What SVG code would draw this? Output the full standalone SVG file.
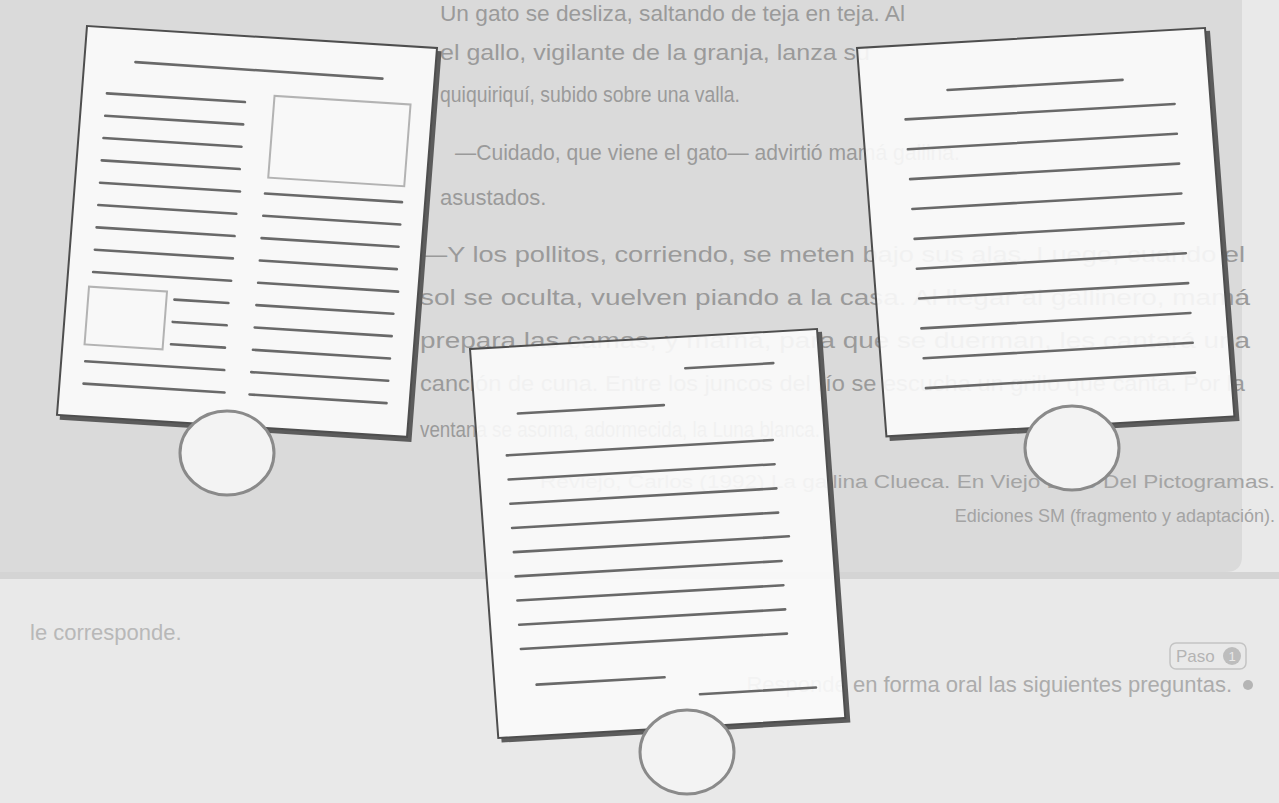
<svg xmlns="http://www.w3.org/2000/svg" width="1279" height="803" viewBox="0 0 1279 803">
<defs>
<style>
.bgt{font-family:"Liberation Sans",Arial,sans-serif;fill:#9a9a9a;font-size:22px}
.bgs{font-family:"Liberation Sans",Arial,sans-serif;fill:#a4a4a4;font-size:18px}
.shadow{fill:none;stroke:#5c5c5c;stroke-width:4.5}
.page{fill:#fbfbfb;fill-opacity:0.9;stroke:#4e4e4e;stroke-width:2}
.ln{stroke:#696969;stroke-width:2.6;stroke-linecap:round}
.pic{fill:none;stroke:#b3b3b3;stroke-width:2}
.seal{fill:#f3f3f3;stroke:#8a8a8a;stroke-width:3}
</style>
</defs>

<g id="background">
<rect width="1279" height="803" fill="#e9e9e9"/>
<path d="M0 0 H1242 V556 Q1242 572 1226 572 H0 Z" fill="#dadada"/>
<rect x="0" y="572" width="1279" height="7" fill="#d4d4d4"/>
</g>

<g id="page-text">
<text class="bgt" x="440" y="21" textLength="465" lengthAdjust="spacingAndGlyphs">Un gato se desliza, saltando de teja en teja. Al</text>
<text class="bgt" x="440" y="60" textLength="430" lengthAdjust="spacingAndGlyphs">el gallo, vigilante de la granja, lanza su</text>
<text class="bgt" x="440" y="102" textLength="300" lengthAdjust="spacingAndGlyphs">quiquiriquí, subido sobre una valla.</text>
<text class="bgt" x="455" y="160" textLength="505" lengthAdjust="spacingAndGlyphs">—Cuidado, que viene el gato— advirtió mamá gallina.</text>
<text class="bgt" x="440" y="205">asustados.</text>
<text class="bgt" x="420" y="262" textLength="825" lengthAdjust="spacingAndGlyphs">—Y los pollitos, corriendo, se meten bajo sus alas. Luego, cuando el</text>
<text class="bgt" x="420" y="305" textLength="830" lengthAdjust="spacingAndGlyphs">sol se oculta, vuelven piando a la casa. Al llegar al gallinero, mamá</text>
<text class="bgt" x="420" y="348" textLength="830" lengthAdjust="spacingAndGlyphs">prepara las camas, y mamá, para que se duerman, les cantará una</text>
<text class="bgt" x="420" y="391" textLength="825" lengthAdjust="spacingAndGlyphs">canción de cuna. Entre los juncos del río se escucha un grillo que canta. Por la</text>
<text class="bgt" x="420" y="437" textLength="400" lengthAdjust="spacingAndGlyphs">ventana se asoma, adormecida, la Luna blanca.</text>
<text class="bgs" x="540" y="488" textLength="735" lengthAdjust="spacingAndGlyphs">Reviejo, Carlos (1992) La gallina Clueca. En Viejo Libro Del Pictogramas.</text>
<text class="bgs" x="1275" y="522" text-anchor="end">Ediciones SM (fragmento y adaptación).</text>
<text class="bgt" x="30" y="640" style="fill:#b8b8b8">le corresponde.</text>
<rect x="1170" y="643" width="76" height="26" rx="6" fill="none" stroke="#c4c4c4" stroke-width="1.5"/>
<text class="bgs" x="1176" y="662" style="fill:#b4b4b4;font-size:17px">Paso</text>
<circle cx="1232" cy="656" r="9" fill="#bdbdbd"/>
<text class="bgs" x="1232" y="661" text-anchor="middle" style="fill:#e9e9e9;font-size:13px">1</text>
<text class="bgt" x="1232" y="692" text-anchor="end" style="fill:#acacac">Responde en forma oral las siguientes preguntas.</text>
<circle cx="1248" cy="685" r="5" fill="#b4b4b4"/>
</g>

<g id="doc-left" transform="matrix(1 0.0629 -0.0769 0.997 87 26)">
<polyline class="shadow" points="352.5,3 352.5,392.5 3,392.5"/>
<rect class="page" x="0" y="0" width="350" height="390"/>
<line class="ln" x1="51" y1="33" x2="298" y2="34"/>
<rect class="pic" x="192" y="58" width="136" height="82"/>
<rect class="pic" x="22" y="260" width="78" height="58"/>
<line class="ln" x1="25" y1="66" x2="163" y2="66"/>
<line class="ln" x1="25" y1="88.4" x2="163" y2="88.4"/>
<line class="ln" x1="25" y1="110.8" x2="163" y2="110.8"/>
<line class="ln" x1="25" y1="133.2" x2="163" y2="133.2"/>
<line class="ln" x1="25" y1="155.6" x2="165" y2="155.6"/>
<line class="ln" x1="25" y1="178" x2="163" y2="178"/>
<line class="ln" x1="25" y1="200.4" x2="163" y2="200.4"/>
<line class="ln" x1="25" y1="222.8" x2="163" y2="222.8"/>
<line class="ln" x1="25" y1="245.2" x2="163" y2="245.2"/>
<line class="ln" x1="108" y1="267.6" x2="162" y2="267.6"/>
<line class="ln" x1="108" y1="290" x2="162" y2="290"/>
<line class="ln" x1="108" y1="312.4" x2="162" y2="312.4"/>
<line class="ln" x1="24" y1="334.8" x2="163" y2="334.8"/>
<line class="ln" x1="24" y1="357.2" x2="165" y2="357.2"/>
<line class="ln" x1="190" y1="156" x2="327" y2="156"/>
<line class="ln" x1="190" y1="178.4" x2="327" y2="178.4"/>
<line class="ln" x1="190" y1="200.8" x2="327" y2="200.8"/>
<line class="ln" x1="190" y1="223.2" x2="327" y2="223.2"/>
<line class="ln" x1="190" y1="245.6" x2="330" y2="245.6"/>
<line class="ln" x1="190" y1="268" x2="327" y2="268"/>
<line class="ln" x1="190" y1="290.4" x2="327" y2="290.4"/>
<line class="ln" x1="190" y1="312.8" x2="327" y2="312.8"/>
<line class="ln" x1="190" y1="335.2" x2="327" y2="335.2"/>
<line class="ln" x1="190" y1="357.6" x2="327" y2="357.6"/>
</g>

<g id="doc-right" transform="matrix(1 -0.0575 0.0756 0.9985 857 48)">
<polyline class="shadow" points="350.5,3 350.5,391.5 3,391.5"/>
<rect class="page" x="0" y="0" width="348" height="389"/>
<line class="ln" x1="87" y1="47" x2="262" y2="47"/>
<line class="ln" x1="43" y1="74" x2="312" y2="74"/>
<line class="ln" x1="43" y1="103.9" x2="312" y2="103.9"/>
<line class="ln" x1="43" y1="133.8" x2="312" y2="133.8"/>
<line class="ln" x1="43" y1="163.7" x2="312" y2="163.7"/>
<line class="ln" x1="43" y1="193.6" x2="312" y2="193.6"/>
<line class="ln" x1="43" y1="223.5" x2="312" y2="223.5"/>
<line class="ln" x1="43" y1="253.4" x2="312" y2="253.4"/>
<line class="ln" x1="43" y1="283.3" x2="312" y2="283.3"/>
<line class="ln" x1="43" y1="313.2" x2="312" y2="313.2"/>
<line class="ln" x1="43" y1="343.1" x2="312" y2="343.1"/>
</g>

<g id="doc-bottom" transform="matrix(1 -0.0576 0.0727 1 470 349)">
<polyline class="shadow" points="349.5,3 349.5,391.5 3,391.5"/>
<rect class="page" x="0" y="0" width="347" height="389"/>
<line class="ln" x1="213" y1="31.5" x2="301" y2="31.5"/>
<line class="ln" x1="43" y1="67" x2="189" y2="67"/>
<line class="ln" x1="29" y1="108" x2="295" y2="108"/>
<line class="ln" x1="29" y1="132.2" x2="295" y2="132.2"/>
<line class="ln" x1="29" y1="156.4" x2="295" y2="156.4"/>
<line class="ln" x1="29" y1="180.6" x2="295" y2="180.6"/>
<line class="ln" x1="29" y1="204.8" x2="304" y2="204.8"/>
<line class="ln" x1="29" y1="229" x2="295" y2="229"/>
<line class="ln" x1="29" y1="253.2" x2="295" y2="253.2"/>
<line class="ln" x1="29" y1="277.4" x2="295" y2="277.4"/>
<line class="ln" x1="29" y1="301.6" x2="295" y2="301.6"/>
<line class="ln" x1="42" y1="338" x2="170" y2="338"/>
<line class="ln" x1="204" y1="357" x2="320" y2="357"/>
</g>

<g id="seals">
<ellipse id="seal-left" class="seal" cx="227" cy="453" rx="47" ry="42"/>
<ellipse id="seal-right" class="seal" cx="1072" cy="448" rx="47" ry="42"/>
<ellipse id="seal-bottom" class="seal" cx="687" cy="752" rx="47" ry="42"/>
</g>
</svg>
